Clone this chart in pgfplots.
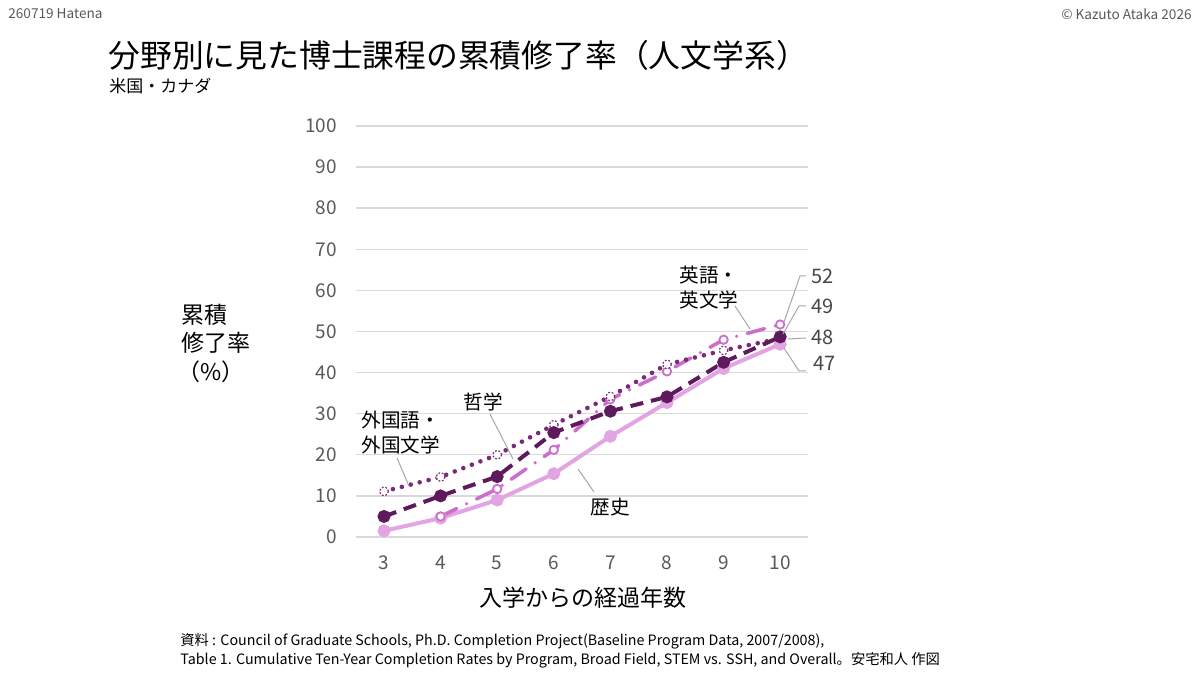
\documentclass[border=0pt]{standalone}
\usepackage{fontspec}
\setmainfont{Noto Sans CJK JP}
\usepackage{pgfplots}
\pgfplotsset{compat=1.18}
\definecolor{cdark}{HTML}{5E1A5C}
\definecolor{cdot}{HTML}{7A2A78}
\definecolor{ceng}{HTML}{CC6ECC}
\definecolor{chis}{HTML}{E2A4E2}
\definecolor{cgrid}{HTML}{D9D9D9}
\definecolor{ctick}{HTML}{595959}
\definecolor{clead}{HTML}{A6A6A6}
\newcommand{\fs}[1]{\fontsize{#1}{#1}\selectfont}
\begin{document}
\begin{tikzpicture}
\path (0,0) rectangle (600pt,337.5pt);
\begin{axis}[at={(177.85pt,69pt)}, anchor=south west, scale only axis,
  width=226.4pt, height=205.5pt,
  xmin=2.5, xmax=10.5, ymin=0, ymax=100,
  xtick={3,4,5,6,7,8,9,10}, ytick={0,10,...,100},
  axis line style={draw=none}, major tick length=0pt,
  ymajorgrids, grid style={cgrid, line width=0.7pt},
  /pgf/number format/assume math mode=true,
  ticklabel style={font=\fs{9.5}, text=ctick},
  yticklabel style={xshift=-6pt},
  xticklabel style={yshift=-6pt},
  clip=false]
\addplot[chis, line width=2pt, mark=*, mark size=2.2pt, mark options={solid, fill=chis}]
  coordinates {(3,1.5) (4,4.6) (5,9.0) (6,15.4) (7,24.5) (8,32.7) (9,41.0) (10,46.9)};
\addplot[ceng, line width=1.8pt, line cap=round, dash pattern=on 9pt off 5.5pt on 0pt off 5.5pt, mark=*, mark size=2.1pt, mark options={solid, fill=white, line width=0.9pt}]
  coordinates {(4,5.0) (5,11.7) (6,21.2) (7,33.5) (8,40.3) (9,48.0) (10,51.7)};
\addplot[cdot, line width=2.3pt, line cap=round, dash pattern=on 0pt off 4.6pt, mark=*, mark size=2.2pt, mark options={fill=white, line width=0.6pt, line cap=butt, dash pattern=on 0.9pt off 0.9pt}]
  coordinates {(3,11.1) (4,14.6) (5,20.0) (6,27.3) (7,34.2) (8,42.0) (9,45.4) (10,48.3)};
\addplot[cdark, line width=2pt, dash pattern=on 6.5pt off 4pt, mark=*, mark size=2.2pt, mark options={solid, fill=cdark}]
  coordinates {(3,5.0) (4,10.0) (5,14.7) (6,25.4) (7,30.6) (8,34.1) (9,42.5) (10,48.7)};
\end{axis}
\begin{scope}[x=0.5pt, y=-0.5pt, shift={(0pt,337.5pt)}]
\node[anchor=west, text=ctick, inner sep=0pt, font=\fs{6.8}] at (8,14) {260719 Hatena};
\node[anchor=east, text=ctick, inner sep=0pt, font=\fs{6.8}] at (1192,14) {© Kazuto Ataka 2026};
\node[anchor=west, inner sep=0pt, font=\fs{15.9}] at (108,55) {分野別に見た博士課程の累積修了率（人文学系）};
\node[anchor=west, inner sep=0pt, font=\fs{8.5}] at (109,86) {米国・カナダ};
\node[anchor=west, inner sep=0pt, font=\fs{11.5}] at (181,315) {累積};
\node[anchor=west, inner sep=0pt, font=\fs{11.5}] at (181,343) {修了率};
\node[anchor=west, inner sep=0pt, font=\fs{11.5}] at (177,372) {（\%）};
\node[inner sep=0pt, font=\fs{11.5}] at (583,598) {入学からの経過年数};
\node[anchor=west, inner sep=0pt, font=\fs{9.8}] at (361,420) {外国語・};
\node[anchor=west, inner sep=0pt, font=\fs{9.8}] at (361,445) {外国文学};
\draw[clead, line width=0.5pt] (397,458) -- (409,486);
\node[inner sep=0pt, font=\fs{9.8}] at (483,402) {哲学};
\draw[clead, line width=0.5pt] (490,414) -- (513,459);
\node[inner sep=0pt, font=\fs{9.8}] at (610,507) {歴史};
\draw[clead, line width=0.5pt] (578,469) -- (594,492);
\node[anchor=west, inner sep=0pt, font=\fs{9.8}] at (679,275) {英語・};
\node[anchor=west, inner sep=0pt, font=\fs{9.8}] at (679,300) {英文学};
\draw[clead, line width=0.5pt] (735,306) -- (750,329);
\node[anchor=west, inner sep=0pt, font=\fs{10}, text=ctick!80!black] at (811,276) {52};
\node[anchor=west, inner sep=0pt, font=\fs{10}, text=ctick!80!black] at (811,306) {49};
\node[anchor=west, inner sep=0pt, font=\fs{10}, text=ctick!80!black] at (811,337) {48};
\node[anchor=west, inner sep=0pt, font=\fs{10}, text=ctick!80!black] at (813,363) {47};
\draw[clead, line width=0.5pt] (806,276) -- (800,276) -- (784,322);
\draw[clead, line width=0.5pt] (806,306) -- (799,306) -- (783,334);
\draw[clead, line width=0.5pt] (806,338) -- (788,339);
\draw[clead, line width=0.5pt] (806,371) -- (799,371) -- (784,348);
\node[anchor=west, inner sep=0pt, font=\fs{7.15}] at (180,641) {資料 : Council of Graduate Schools, Ph.D. Completion Project(Baseline Program Data, 2007/2008),};
\node[anchor=west, inner sep=0pt, font=\fs{7.15}] at (180,660) {Table 1. Cumulative Ten-Year Completion Rates by Program, Broad Field, STEM vs. SSH, and Overall。安宅和人 作図};
\end{scope}
\end{tikzpicture}
\end{document}
